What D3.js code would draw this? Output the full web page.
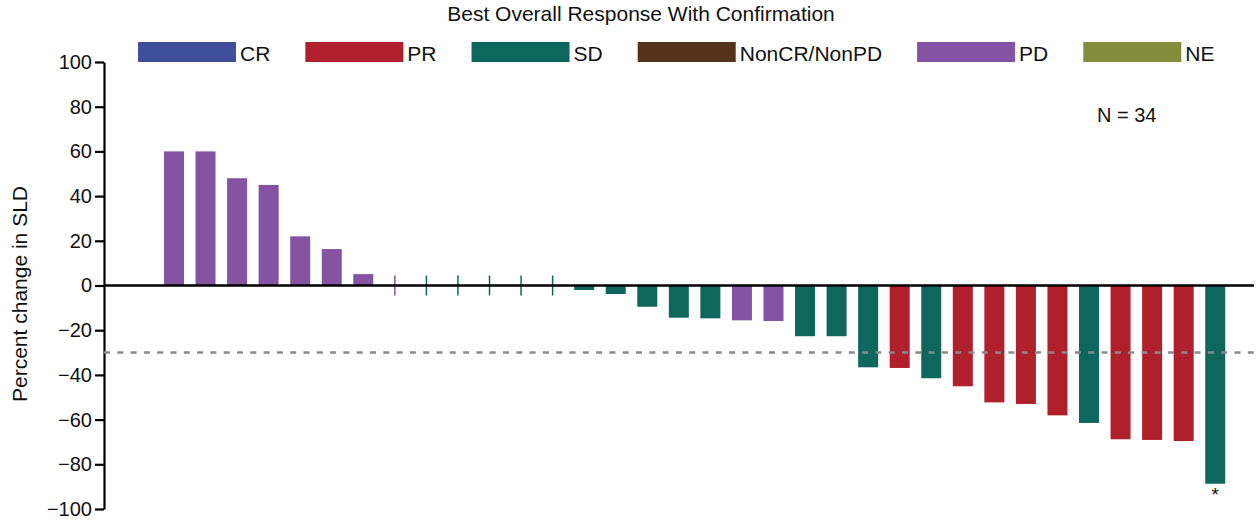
<!DOCTYPE html>
<html>
<head>
<meta charset="utf-8">
<script src="https://cdn.jsdelivr.net/npm/d3@7"></script>
<style>
  body { margin: 0; background: #fff; }
  svg text { font-family: "Liberation Sans", Arial, Helvetica, sans-serif; fill: #111; }
</style>
</head>
<body>
<svg id="chart" width="1260" height="525"></svg>
<script>
// response categories and their colours (legend order)
var categories = ['CR', 'PR', 'SD', 'NonCR/NonPD', 'PD', 'NE'];
var colors = ['#404f9c', '#b01f2c', '#0e675c', '#55331a', '#8453a1', '#818d3a'];

// per-subject best percent change in SLD, sorted as in the waterfall
var values = [60, 60, 48, 45, 22, 16.3, 5.1, 0,
  0, 0, 0, 0, 0,
  -2.0, -3.8, -9.5, -14.4, -14.7, -15.6, -15.9, -22.7, -22.7, -36.6,
  -36.9, -41.5, -45.1, -52.3, -53.0, -58.1, -61.5, -68.8, -69.1, -69.6, -88.7];
var responses = ['PD', 'PD', 'PD', 'PD', 'PD', 'PD', 'PD', 'PD',
  'SD', 'SD', 'SD', 'SD', 'SD',
  'SD', 'SD', 'SD', 'SD', 'SD', 'PD', 'PD', 'SD', 'SD', 'SD',
  'PR', 'SD', 'PR', 'PR', 'PR', 'PR', 'SD', 'PR', 'PR', 'PR', 'SD'];
var notes = { 33: '*' };

var yTicks = [-100, -80, -60, -40, -20, 0, 20, 40, 60, 80, 100];
var threshold = -30;

var svg = d3.select('#chart');
var color = d3.scaleOrdinal().domain(categories).range(colors);

var x = d3.scaleBand()
  .domain(d3.range(values.length))
  .range([158.2, 1231])
  .paddingInner(0.366)
  .paddingOuter(0.183);

var y = d3.scaleLinear().domain([-100, 100]).range([509, 62]);

// title
svg.append('text')
  .attr('x', 641).attr('y', 21)
  .attr('text-anchor', 'middle')
  .style('font-size', '21px')
  .text('Best Overall Response With Confirmation');

// legend, laid out from measured text widths
var lx = 138;
categories.forEach(function(c) {
  var g = svg.append('g').attr('transform', 'translate(' + lx + ',42)');
  g.append('rect').attr('width', 98).attr('height', 20).attr('fill', color(c));
  var t = g.append('text').attr('x', 102).attr('y', 19)
    .style('font-size', '21px').text(c);
  lx += 102 + t.node().getComputedTextLength() + 35;
});

// y axis
var yAxis = svg.append('g')
  .attr('transform', 'translate(104,0)')
  .call(d3.axisLeft(y).tickValues(yTicks).tickSize(9).tickSizeOuter(0).tickPadding(3));
yAxis.select('.domain').attr('stroke', '#000').attr('stroke-width', 2.2);
yAxis.selectAll('.tick line').attr('stroke', '#000').attr('stroke-width', 2.2);
yAxis.selectAll('.tick text')
  .style('font-size', '20px')
  .style('font-family', '"Liberation Sans", Arial, sans-serif')
  .attr('fill', '#111');

svg.append('text')
  .attr('transform', 'translate(27,294) rotate(-90)')
  .attr('text-anchor', 'middle')
  .style('font-size', '21px')
  .text('Percent change in SLD');

// bars
var idx = d3.range(values.length);
svg.append('g').selectAll('rect')
  .data(idx.filter(function(i) { return values[i] !== 0; }))
  .enter().append('rect')
  .attr('x', function(i) { return x(i); })
  .attr('width', x.bandwidth())
  .attr('y', function(i) { return y(Math.max(0, values[i])); })
  .attr('height', function(i) { return Math.abs(y(values[i]) - y(0)); })
  .attr('fill', function(i) { return color(responses[i]); });

// zero-change subjects shown as short vertical markers
svg.append('g').selectAll('line')
  .data(idx.filter(function(i) { return values[i] === 0; }))
  .enter().append('line')
  .attr('x1', function(i) { return x(i) + x.bandwidth() / 2; })
  .attr('x2', function(i) { return x(i) + x.bandwidth() / 2; })
  .attr('y1', y(0) - 10).attr('y2', y(0) + 10)
  .attr('stroke', function(i) { return color(responses[i]); })
  .attr('stroke-width', 1.5);

// zero line
svg.append('line')
  .attr('x1', 104).attr('x2', 1254)
  .attr('y1', y(0)).attr('y2', y(0))
  .attr('stroke', '#000').attr('stroke-width', 2.5);

// -30% reference line
svg.append('line')
  .attr('x1', 104).attr('x2', 1256)
  .attr('y1', y(threshold)).attr('y2', y(threshold))
  .attr('stroke', '#8a8a8a').attr('stroke-width', 2.5)
  .attr('stroke-dasharray', '6,7.3');

// notes below bars
svg.append('g').selectAll('text')
  .data(Object.keys(notes))
  .enter().append('text')
  .attr('x', function(i) { return x(+i) + x.bandwidth() / 2; })
  .attr('y', function(i) { return y(values[i]) + 17; })
  .attr('text-anchor', 'middle')
  .style('font-size', '19px')
  .text(function(i) { return notes[i]; });

svg.append('text')
  .attr('x', 1097).attr('y', 122)
  .style('font-size', '20px')
  .text('N = 34');
</script>
</body>
</html>
